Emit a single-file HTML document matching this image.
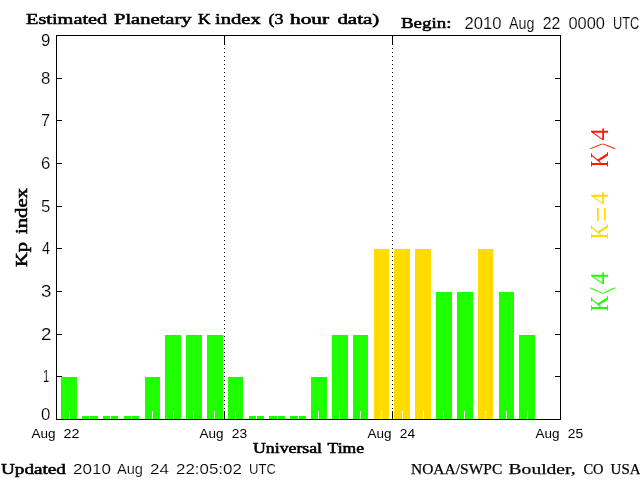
<!DOCTYPE html>
<html lang="en"><head><meta charset="utf-8"><title>Estimated Planetary K index</title>
<style>
html,body{margin:0;padding:0;background:#fff;overflow:hidden}
svg{display:block;will-change:transform}
.s{font-family:"Liberation Sans",sans-serif;fill:#000;stroke:#fff;stroke-width:0.15px}
.b{font-family:"Liberation Serif",serif;fill:#000;stroke:#000;stroke-width:0.55px}
.n{font-family:"Liberation Serif",serif;fill:#000;stroke:#000;stroke-width:0.25px}
.r{font-family:"Liberation Serif",serif;fill:#000}
.c{font-family:"DejaVu Sans Light","Liberation Sans",sans-serif}
</style></head><body>
<svg width="640" height="480" viewBox="0 0 640 480" role="img" aria-label="Estimated Planetary K index bar chart">
<rect width="640" height="480" fill="#fff"/>
<g shape-rendering="crispEdges">
<rect x="61" y="377" width="16" height="42" fill="#1eff00"/>
<rect x="82" y="416" width="16" height="3" fill="#1eff00"/>
<rect x="103" y="416" width="15" height="3" fill="#1eff00"/>
<rect x="124" y="416" width="15" height="3" fill="#1eff00"/>
<rect x="145" y="377" width="15" height="42" fill="#1eff00"/>
<rect x="165" y="335" width="16" height="84" fill="#1eff00"/>
<rect x="186" y="335" width="16" height="84" fill="#1eff00"/>
<rect x="207" y="335" width="16" height="84" fill="#1eff00"/>
<rect x="228" y="377" width="15" height="42" fill="#1eff00"/>
<rect x="249" y="416" width="15" height="3" fill="#1eff00"/>
<rect x="269" y="416" width="16" height="3" fill="#1eff00"/>
<rect x="290" y="416" width="16" height="3" fill="#1eff00"/>
<rect x="311" y="377" width="16" height="42" fill="#1eff00"/>
<rect x="332" y="335" width="16" height="84" fill="#1eff00"/>
<rect x="353" y="335" width="15" height="84" fill="#1eff00"/>
<rect x="374" y="249" width="15" height="170" fill="#ffdc00"/>
<rect x="394" y="249" width="16" height="170" fill="#ffdc00"/>
<rect x="415" y="249" width="16" height="170" fill="#ffdc00"/>
<rect x="436" y="292" width="16" height="127" fill="#1eff00"/>
<rect x="457" y="292" width="16" height="127" fill="#1eff00"/>
<rect x="478" y="249" width="15" height="170" fill="#ffdc00"/>
<rect x="499" y="292" width="15" height="127" fill="#1eff00"/>
<rect x="519" y="335" width="16" height="84" fill="#1eff00"/>
<rect x="69" y="411" width="1" height="8" fill="#fff"/>
<rect x="89" y="411" width="1" height="8" fill="#fff"/>
<rect x="110" y="411" width="1" height="8" fill="#fff"/>
<rect x="131" y="411" width="1" height="8" fill="#fff"/>
<rect x="152" y="411" width="1" height="8" fill="#fff"/>
<rect x="173" y="411" width="1" height="8" fill="#fff"/>
<rect x="193" y="411" width="1" height="8" fill="#fff"/>
<rect x="214" y="411" width="1" height="8" fill="#fff"/>
<rect x="235" y="411" width="1" height="8" fill="#fff"/>
<rect x="256" y="411" width="1" height="8" fill="#fff"/>
<rect x="277" y="411" width="1" height="8" fill="#fff"/>
<rect x="298" y="411" width="1" height="8" fill="#fff"/>
<rect x="318" y="411" width="1" height="8" fill="#fff"/>
<rect x="339" y="411" width="1" height="8" fill="#fff"/>
<rect x="360" y="411" width="1" height="8" fill="#fff"/>
<rect x="381" y="411" width="1" height="8" fill="#fff"/>
<rect x="402" y="411" width="1" height="8" fill="#fff"/>
<rect x="423" y="411" width="1" height="8" fill="#fff"/>
<rect x="443" y="411" width="1" height="8" fill="#fff"/>
<rect x="464" y="411" width="1" height="8" fill="#fff"/>
<rect x="485" y="411" width="1" height="8" fill="#fff"/>
<rect x="506" y="411" width="1" height="8" fill="#fff"/>
<rect x="527" y="411" width="1" height="8" fill="#fff"/>
<rect x="56" y="35" width="505" height="1" fill="#000"/>
<rect x="56" y="419" width="505" height="1" fill="#000"/>
<rect x="56" y="35" width="1" height="385" fill="#000"/>
<rect x="560" y="35" width="1" height="385" fill="#000"/>
<rect x="56" y="376" width="6" height="1" fill="#000"/>
<rect x="555" y="376" width="6" height="1" fill="#000"/>
<rect x="56" y="334" width="6" height="1" fill="#000"/>
<rect x="555" y="334" width="6" height="1" fill="#000"/>
<rect x="56" y="291" width="6" height="1" fill="#000"/>
<rect x="555" y="291" width="6" height="1" fill="#000"/>
<rect x="56" y="248" width="6" height="1" fill="#000"/>
<rect x="555" y="248" width="6" height="1" fill="#000"/>
<rect x="56" y="206" width="6" height="1" fill="#000"/>
<rect x="555" y="206" width="6" height="1" fill="#000"/>
<rect x="56" y="163" width="6" height="1" fill="#000"/>
<rect x="555" y="163" width="6" height="1" fill="#000"/>
<rect x="56" y="120" width="6" height="1" fill="#000"/>
<rect x="555" y="120" width="6" height="1" fill="#000"/>
<rect x="56" y="78" width="6" height="1" fill="#000"/>
<rect x="555" y="78" width="6" height="1" fill="#000"/>
<rect x="224" y="35" width="1" height="10" fill="#000"/>
<rect x="224" y="411" width="1" height="9" fill="#000"/>
<rect x="224" y="48" width="1" height="1" fill="#000"/>
<rect x="224" y="52" width="1" height="1" fill="#000"/>
<rect x="224" y="56" width="1" height="1" fill="#000"/>
<rect x="224" y="60" width="1" height="1" fill="#000"/>
<rect x="224" y="64" width="1" height="1" fill="#000"/>
<rect x="224" y="68" width="1" height="1" fill="#000"/>
<rect x="224" y="72" width="1" height="1" fill="#000"/>
<rect x="224" y="76" width="1" height="1" fill="#000"/>
<rect x="224" y="80" width="1" height="1" fill="#000"/>
<rect x="224" y="84" width="1" height="1" fill="#000"/>
<rect x="224" y="88" width="1" height="1" fill="#000"/>
<rect x="224" y="92" width="1" height="1" fill="#000"/>
<rect x="224" y="96" width="1" height="1" fill="#000"/>
<rect x="224" y="100" width="1" height="1" fill="#000"/>
<rect x="224" y="104" width="1" height="1" fill="#000"/>
<rect x="224" y="108" width="1" height="1" fill="#000"/>
<rect x="224" y="112" width="1" height="1" fill="#000"/>
<rect x="224" y="116" width="1" height="1" fill="#000"/>
<rect x="224" y="120" width="1" height="1" fill="#000"/>
<rect x="224" y="124" width="1" height="1" fill="#000"/>
<rect x="224" y="128" width="1" height="1" fill="#000"/>
<rect x="224" y="132" width="1" height="1" fill="#000"/>
<rect x="224" y="136" width="1" height="1" fill="#000"/>
<rect x="224" y="140" width="1" height="1" fill="#000"/>
<rect x="224" y="144" width="1" height="1" fill="#000"/>
<rect x="224" y="148" width="1" height="1" fill="#000"/>
<rect x="224" y="152" width="1" height="1" fill="#000"/>
<rect x="224" y="156" width="1" height="1" fill="#000"/>
<rect x="224" y="160" width="1" height="1" fill="#000"/>
<rect x="224" y="164" width="1" height="1" fill="#000"/>
<rect x="224" y="168" width="1" height="1" fill="#000"/>
<rect x="224" y="172" width="1" height="1" fill="#000"/>
<rect x="224" y="176" width="1" height="1" fill="#000"/>
<rect x="224" y="180" width="1" height="1" fill="#000"/>
<rect x="224" y="184" width="1" height="1" fill="#000"/>
<rect x="224" y="188" width="1" height="1" fill="#000"/>
<rect x="224" y="192" width="1" height="1" fill="#000"/>
<rect x="224" y="196" width="1" height="1" fill="#000"/>
<rect x="224" y="200" width="1" height="1" fill="#000"/>
<rect x="224" y="204" width="1" height="1" fill="#000"/>
<rect x="224" y="208" width="1" height="1" fill="#000"/>
<rect x="224" y="212" width="1" height="1" fill="#000"/>
<rect x="224" y="216" width="1" height="1" fill="#000"/>
<rect x="224" y="220" width="1" height="1" fill="#000"/>
<rect x="224" y="224" width="1" height="1" fill="#000"/>
<rect x="224" y="228" width="1" height="1" fill="#000"/>
<rect x="224" y="232" width="1" height="1" fill="#000"/>
<rect x="224" y="236" width="1" height="1" fill="#000"/>
<rect x="224" y="240" width="1" height="1" fill="#000"/>
<rect x="224" y="244" width="1" height="1" fill="#000"/>
<rect x="224" y="248" width="1" height="1" fill="#000"/>
<rect x="224" y="252" width="1" height="1" fill="#000"/>
<rect x="224" y="256" width="1" height="1" fill="#000"/>
<rect x="224" y="260" width="1" height="1" fill="#000"/>
<rect x="224" y="264" width="1" height="1" fill="#000"/>
<rect x="224" y="268" width="1" height="1" fill="#000"/>
<rect x="224" y="272" width="1" height="1" fill="#000"/>
<rect x="224" y="276" width="1" height="1" fill="#000"/>
<rect x="224" y="280" width="1" height="1" fill="#000"/>
<rect x="224" y="284" width="1" height="1" fill="#000"/>
<rect x="224" y="288" width="1" height="1" fill="#000"/>
<rect x="224" y="292" width="1" height="1" fill="#000"/>
<rect x="224" y="296" width="1" height="1" fill="#000"/>
<rect x="224" y="300" width="1" height="1" fill="#000"/>
<rect x="224" y="304" width="1" height="1" fill="#000"/>
<rect x="224" y="308" width="1" height="1" fill="#000"/>
<rect x="224" y="312" width="1" height="1" fill="#000"/>
<rect x="224" y="316" width="1" height="1" fill="#000"/>
<rect x="224" y="320" width="1" height="1" fill="#000"/>
<rect x="224" y="324" width="1" height="1" fill="#000"/>
<rect x="224" y="328" width="1" height="1" fill="#000"/>
<rect x="224" y="332" width="1" height="1" fill="#000"/>
<rect x="224" y="336" width="1" height="1" fill="#000"/>
<rect x="224" y="340" width="1" height="1" fill="#000"/>
<rect x="224" y="344" width="1" height="1" fill="#000"/>
<rect x="224" y="348" width="1" height="1" fill="#000"/>
<rect x="224" y="352" width="1" height="1" fill="#000"/>
<rect x="224" y="356" width="1" height="1" fill="#000"/>
<rect x="224" y="360" width="1" height="1" fill="#000"/>
<rect x="224" y="364" width="1" height="1" fill="#000"/>
<rect x="224" y="368" width="1" height="1" fill="#000"/>
<rect x="224" y="372" width="1" height="1" fill="#000"/>
<rect x="224" y="376" width="1" height="1" fill="#000"/>
<rect x="224" y="380" width="1" height="1" fill="#000"/>
<rect x="224" y="384" width="1" height="1" fill="#000"/>
<rect x="224" y="388" width="1" height="1" fill="#000"/>
<rect x="224" y="392" width="1" height="1" fill="#000"/>
<rect x="224" y="396" width="1" height="1" fill="#000"/>
<rect x="224" y="400" width="1" height="1" fill="#000"/>
<rect x="224" y="404" width="1" height="1" fill="#000"/>
<rect x="224" y="408" width="1" height="1" fill="#000"/>
<rect x="392" y="35" width="1" height="10" fill="#000"/>
<rect x="392" y="411" width="1" height="9" fill="#000"/>
<rect x="392" y="48" width="1" height="1" fill="#000"/>
<rect x="392" y="52" width="1" height="1" fill="#000"/>
<rect x="392" y="56" width="1" height="1" fill="#000"/>
<rect x="392" y="60" width="1" height="1" fill="#000"/>
<rect x="392" y="64" width="1" height="1" fill="#000"/>
<rect x="392" y="68" width="1" height="1" fill="#000"/>
<rect x="392" y="72" width="1" height="1" fill="#000"/>
<rect x="392" y="76" width="1" height="1" fill="#000"/>
<rect x="392" y="80" width="1" height="1" fill="#000"/>
<rect x="392" y="84" width="1" height="1" fill="#000"/>
<rect x="392" y="88" width="1" height="1" fill="#000"/>
<rect x="392" y="92" width="1" height="1" fill="#000"/>
<rect x="392" y="96" width="1" height="1" fill="#000"/>
<rect x="392" y="100" width="1" height="1" fill="#000"/>
<rect x="392" y="104" width="1" height="1" fill="#000"/>
<rect x="392" y="108" width="1" height="1" fill="#000"/>
<rect x="392" y="112" width="1" height="1" fill="#000"/>
<rect x="392" y="116" width="1" height="1" fill="#000"/>
<rect x="392" y="120" width="1" height="1" fill="#000"/>
<rect x="392" y="124" width="1" height="1" fill="#000"/>
<rect x="392" y="128" width="1" height="1" fill="#000"/>
<rect x="392" y="132" width="1" height="1" fill="#000"/>
<rect x="392" y="136" width="1" height="1" fill="#000"/>
<rect x="392" y="140" width="1" height="1" fill="#000"/>
<rect x="392" y="144" width="1" height="1" fill="#000"/>
<rect x="392" y="148" width="1" height="1" fill="#000"/>
<rect x="392" y="152" width="1" height="1" fill="#000"/>
<rect x="392" y="156" width="1" height="1" fill="#000"/>
<rect x="392" y="160" width="1" height="1" fill="#000"/>
<rect x="392" y="164" width="1" height="1" fill="#000"/>
<rect x="392" y="168" width="1" height="1" fill="#000"/>
<rect x="392" y="172" width="1" height="1" fill="#000"/>
<rect x="392" y="176" width="1" height="1" fill="#000"/>
<rect x="392" y="180" width="1" height="1" fill="#000"/>
<rect x="392" y="184" width="1" height="1" fill="#000"/>
<rect x="392" y="188" width="1" height="1" fill="#000"/>
<rect x="392" y="192" width="1" height="1" fill="#000"/>
<rect x="392" y="196" width="1" height="1" fill="#000"/>
<rect x="392" y="200" width="1" height="1" fill="#000"/>
<rect x="392" y="204" width="1" height="1" fill="#000"/>
<rect x="392" y="208" width="1" height="1" fill="#000"/>
<rect x="392" y="212" width="1" height="1" fill="#000"/>
<rect x="392" y="216" width="1" height="1" fill="#000"/>
<rect x="392" y="220" width="1" height="1" fill="#000"/>
<rect x="392" y="224" width="1" height="1" fill="#000"/>
<rect x="392" y="228" width="1" height="1" fill="#000"/>
<rect x="392" y="232" width="1" height="1" fill="#000"/>
<rect x="392" y="236" width="1" height="1" fill="#000"/>
<rect x="392" y="240" width="1" height="1" fill="#000"/>
<rect x="392" y="244" width="1" height="1" fill="#000"/>
<rect x="392" y="248" width="1" height="1" fill="#000"/>
<rect x="392" y="252" width="1" height="1" fill="#000"/>
<rect x="392" y="256" width="1" height="1" fill="#000"/>
<rect x="392" y="260" width="1" height="1" fill="#000"/>
<rect x="392" y="264" width="1" height="1" fill="#000"/>
<rect x="392" y="268" width="1" height="1" fill="#000"/>
<rect x="392" y="272" width="1" height="1" fill="#000"/>
<rect x="392" y="276" width="1" height="1" fill="#000"/>
<rect x="392" y="280" width="1" height="1" fill="#000"/>
<rect x="392" y="284" width="1" height="1" fill="#000"/>
<rect x="392" y="288" width="1" height="1" fill="#000"/>
<rect x="392" y="292" width="1" height="1" fill="#000"/>
<rect x="392" y="296" width="1" height="1" fill="#000"/>
<rect x="392" y="300" width="1" height="1" fill="#000"/>
<rect x="392" y="304" width="1" height="1" fill="#000"/>
<rect x="392" y="308" width="1" height="1" fill="#000"/>
<rect x="392" y="312" width="1" height="1" fill="#000"/>
<rect x="392" y="316" width="1" height="1" fill="#000"/>
<rect x="392" y="320" width="1" height="1" fill="#000"/>
<rect x="392" y="324" width="1" height="1" fill="#000"/>
<rect x="392" y="328" width="1" height="1" fill="#000"/>
<rect x="392" y="332" width="1" height="1" fill="#000"/>
<rect x="392" y="336" width="1" height="1" fill="#000"/>
<rect x="392" y="340" width="1" height="1" fill="#000"/>
<rect x="392" y="344" width="1" height="1" fill="#000"/>
<rect x="392" y="348" width="1" height="1" fill="#000"/>
<rect x="392" y="352" width="1" height="1" fill="#000"/>
<rect x="392" y="356" width="1" height="1" fill="#000"/>
<rect x="392" y="360" width="1" height="1" fill="#000"/>
<rect x="392" y="364" width="1" height="1" fill="#000"/>
<rect x="392" y="368" width="1" height="1" fill="#000"/>
<rect x="392" y="372" width="1" height="1" fill="#000"/>
<rect x="392" y="376" width="1" height="1" fill="#000"/>
<rect x="392" y="380" width="1" height="1" fill="#000"/>
<rect x="392" y="384" width="1" height="1" fill="#000"/>
<rect x="392" y="388" width="1" height="1" fill="#000"/>
<rect x="392" y="392" width="1" height="1" fill="#000"/>
<rect x="392" y="396" width="1" height="1" fill="#000"/>
<rect x="392" y="400" width="1" height="1" fill="#000"/>
<rect x="392" y="404" width="1" height="1" fill="#000"/>
<rect x="392" y="408" width="1" height="1" fill="#000"/>
</g>
<text class="b" font-size="15.4" y="24"><tspan x="26" textLength="81.24" lengthAdjust="spacingAndGlyphs">Estimated</tspan> <tspan x="114" textLength="77.51" lengthAdjust="spacingAndGlyphs">Planetary</tspan> <tspan x="198" textLength="12.74" lengthAdjust="spacingAndGlyphs">K</tspan> <tspan x="215" textLength="45.85" lengthAdjust="spacingAndGlyphs">index</tspan> <tspan x="268.6" textLength="14.97" lengthAdjust="spacingAndGlyphs">(3</tspan> <tspan x="290" textLength="39.16" lengthAdjust="spacingAndGlyphs">hour</tspan> <tspan x="337.4" textLength="41.9" lengthAdjust="spacingAndGlyphs">data)</tspan></text>
<text class="b" font-size="15.4" y="28"><tspan x="401" textLength="50.47" lengthAdjust="spacingAndGlyphs">Begin:</tspan></text>
<text class="s" font-size="16" y="29"><tspan x="464.6" textLength="36.93" lengthAdjust="spacingAndGlyphs">2010</tspan> <tspan x="509" textLength="25.4" lengthAdjust="spacingAndGlyphs">Aug</tspan> <tspan x="542.8" textLength="17.57" lengthAdjust="spacingAndGlyphs">22</tspan> <tspan x="568.4" textLength="36.51" lengthAdjust="spacingAndGlyphs">0000</tspan> <tspan x="613" textLength="26.34" lengthAdjust="spacingAndGlyphs">UTC</tspan></text>
<text class="b" font-size="14.3" y="453"><tspan x="253" textLength="69.04" lengthAdjust="spacingAndGlyphs">Universal</tspan> <tspan x="327.6" textLength="36.51" lengthAdjust="spacingAndGlyphs">Time</tspan></text>
<text class="b" font-size="15.4" y="474"><tspan x="1" textLength="64.86" lengthAdjust="spacingAndGlyphs">Updated</tspan></text>
<text class="s" font-size="15.2" y="474"><tspan x="73" textLength="37.91" lengthAdjust="spacingAndGlyphs">2010</tspan> <tspan x="117" textLength="25.94" lengthAdjust="spacingAndGlyphs">Aug</tspan> <tspan x="150" textLength="18.95" lengthAdjust="spacingAndGlyphs">24</tspan> <tspan x="176" textLength="65.86" lengthAdjust="spacingAndGlyphs">22:05:02</tspan> <tspan x="249" textLength="26.96" lengthAdjust="spacingAndGlyphs">UTC</tspan></text>
<text class="n" font-size="15.4" y="474"><tspan x="411" textLength="91.23" lengthAdjust="spacingAndGlyphs">NOAA/SWPC</tspan> <tspan x="508.6" textLength="67.05" lengthAdjust="spacingAndGlyphs">Boulder,</tspan> <tspan x="583.4" textLength="20.03" lengthAdjust="spacingAndGlyphs">CO</tspan> <tspan x="610.6" textLength="29.93" lengthAdjust="spacingAndGlyphs">USA</tspan></text>
<text class="b" font-size="16" transform="translate(27,0) rotate(-90)"><tspan x="-266.9" textLength="24.92" lengthAdjust="spacingAndGlyphs">Kp</tspan> <tspan x="-234" textLength="45.89" lengthAdjust="spacingAndGlyphs">index</tspan></text>
<text class="r" font-size="24.3" transform="translate(608,0) rotate(-90)" style="fill:#ff1800"><tspan x="-167.4" y="0" textLength="15.75" lengthAdjust="spacingAndGlyphs">K</tspan><tspan class="c" font-size="56" x="-149.4" y="12.4" textLength="6.6" lengthAdjust="spacingAndGlyphs">&gt;</tspan><tspan x="-140.6" y="0" textLength="12.4" lengthAdjust="spacingAndGlyphs">4</tspan></text>
<text class="r" font-size="24.3" transform="translate(608,0) rotate(-90)" style="fill:#ffdc00"><tspan x="-239.4" y="0" textLength="15.75" lengthAdjust="spacingAndGlyphs">K</tspan><tspan font-size="34" x="-222" y="5" textLength="15.13" lengthAdjust="spacingAndGlyphs">=</tspan><tspan x="-204.6" y="0" textLength="12.4" lengthAdjust="spacingAndGlyphs">4</tspan></text>
<text class="r" font-size="24.3" transform="translate(608,0) rotate(-90)" style="fill:#1eff00"><tspan x="-311.4" y="0" textLength="15.75" lengthAdjust="spacingAndGlyphs">K</tspan><tspan class="c" font-size="56" x="-294.6" y="12.4" textLength="7.69" lengthAdjust="spacingAndGlyphs">&lt;</tspan><tspan x="-284.6" y="0" textLength="12.4" lengthAdjust="spacingAndGlyphs">4</tspan></text>
<text class="s" font-size="13.6" y="438" style="stroke:none"><tspan x="31.5" textLength="24.02" lengthAdjust="spacingAndGlyphs">Aug</tspan> <tspan x="63.6" textLength="15.96" lengthAdjust="spacingAndGlyphs">22</tspan></text>
<text class="s" font-size="13.6" y="438" style="stroke:none"><tspan x="199.5" textLength="24.02" lengthAdjust="spacingAndGlyphs">Aug</tspan> <tspan x="231.8" textLength="15.4" lengthAdjust="spacingAndGlyphs">23</tspan></text>
<text class="s" font-size="13.6" y="438" style="stroke:none"><tspan x="367.5" textLength="24.02" lengthAdjust="spacingAndGlyphs">Aug</tspan> <tspan x="399.8" textLength="15.4" lengthAdjust="spacingAndGlyphs">24</tspan></text>
<text class="s" font-size="13.6" y="438" style="stroke:none"><tspan x="535.5" textLength="24.02" lengthAdjust="spacingAndGlyphs">Aug</tspan> <tspan x="567.8" textLength="15.4" lengthAdjust="spacingAndGlyphs">25</tspan></text>
<text class="s" font-size="16.4" y="46"><tspan x="41" textLength="9.36" lengthAdjust="spacingAndGlyphs">9</tspan></text>
<text class="s" font-size="16.4" y="84"><tspan x="41" textLength="9.36" lengthAdjust="spacingAndGlyphs">8</tspan></text>
<text class="s" font-size="16.4" y="126"><tspan x="41" textLength="9.03" lengthAdjust="spacingAndGlyphs">7</tspan></text>
<text class="s" font-size="16.4" y="169"><tspan x="41" textLength="9.36" lengthAdjust="spacingAndGlyphs">6</tspan></text>
<text class="s" font-size="16.4" y="212"><tspan x="41" textLength="9.36" lengthAdjust="spacingAndGlyphs">5</tspan></text>
<text class="s" font-size="16.4" y="254"><tspan x="42" textLength="8" lengthAdjust="spacingAndGlyphs">4</tspan></text>
<text class="s" font-size="16.4" y="297"><tspan x="41" textLength="10.4" lengthAdjust="spacingAndGlyphs">3</tspan></text>
<text class="s" font-size="16.4" y="340"><tspan x="41" textLength="10.4" lengthAdjust="spacingAndGlyphs">2</tspan></text>
<text class="s" font-size="16.4" y="382"><tspan x="43" textLength="6.27" lengthAdjust="spacingAndGlyphs">1</tspan></text>
<text class="s" font-size="16.4" y="420"><tspan x="41" textLength="9.36" lengthAdjust="spacingAndGlyphs">0</tspan></text>
</svg>
</body></html>
